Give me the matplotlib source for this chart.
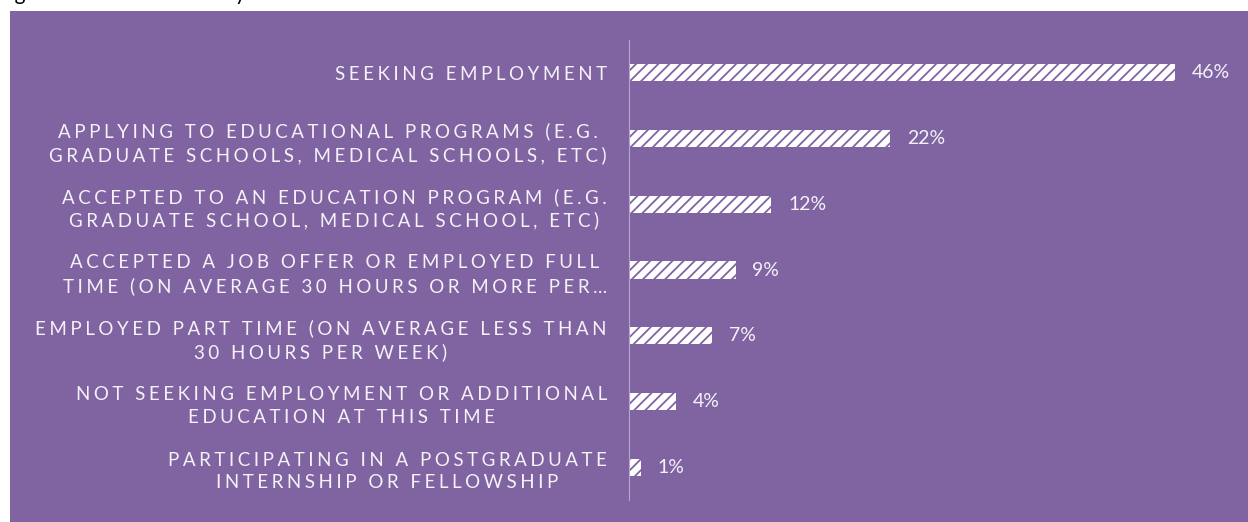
import matplotlib
matplotlib.use("Agg")
import matplotlib.pyplot as plt
from matplotlib.patches import Rectangle

plt.rcParams['font.family'] = ['Lato', 'DejaVu Sans']
plt.rcParams['hatch.linewidth'] = 1.3

# survey responses, top to bottom
statuses = [
    "SEEKING EMPLOYMENT",
    "APPLYING TO EDUCATIONAL PROGRAMS (E.G.\nGRADUATE SCHOOLS, MEDICAL SCHOOLS, ETC)",
    "ACCEPTED TO AN EDUCATION PROGRAM (E.G.\nGRADUATE SCHOOL, MEDICAL SCHOOL, ETC)",
    "ACCEPTED A JOB OFFER OR EMPLOYED FULL\nTIME (ON AVERAGE 30 HOURS OR MORE PER\u2026",
    "EMPLOYED PART TIME (ON AVERAGE LESS THAN\n30 HOURS PER WEEK)",
    "NOT SEEKING EMPLOYMENT OR ADDITIONAL\nEDUCATION AT THIS TIME",
    "PARTICIPATING IN A POSTGRADUATE\nINTERNSHIP OR FELLOWSHIP",
]
shares = [46, 22, 12, 9, 7, 4, 1]

PURPLE = '#8064A2'
TEXT = '#F4F2F7'


def tracked(label, gap='\u2009\u200a'):
    # widen letter spacing line by line
    return '\n'.join(gap.join(line) for line in label.split('\n'))


W, H = 1248, 522
fig = plt.figure(figsize=(W / 100, H / 100), dpi=100)

# purple panel behind the chart
fig.patches.append(Rectangle((10 / W, 0), 1 - 10 / W, (H - 11) / H,
                             transform=fig.transFigure, facecolor=PURPLE,
                             edgecolor='none', zorder=-10))

# caption sits above the panel, mostly off the top edge
fig.text(-2 / W, 1.0, "Figure 3: Current Status by Year", fontsize=15,
         color='black', va='baseline', ha='left')

ax = fig.add_axes([629 / W, (H - 500) / H, (1240 - 629) / W, 460 / H])
ax.set_zorder(2)
ax.patch.set_alpha(0)

ypos = list(range(len(statuses)))
ax.barh(ypos, shares, height=0.26, color='white', edgecolor=PURPLE,
        linewidth=0, hatch='///')

for y, v in zip(ypos, shares):
    ax.annotate(f"{v}%", (v, y), xytext=(12, 0), textcoords='offset points',
                va='center', ha='left', fontsize=14, color=TEXT)

ax.set_xlim(0, 611 / 11.87)
ax.set_ylim(len(statuses) - 0.5, -0.5)
ax.set_xticks([])
ax.set_yticks(ypos)
ax.set_yticklabels([tracked(s) for s in statuses], fontsize=13.5, color=TEXT,
                   multialignment='center', linespacing=1.4)
ax.tick_params(axis='y', length=0, pad=16)

for side in ['top', 'right', 'bottom']:
    ax.spines[side].set_visible(False)
ax.spines['left'].set_color('#B7A6CB')
ax.spines['left'].set_linewidth(0.8)

fig.savefig('out.png', dpi=100)
